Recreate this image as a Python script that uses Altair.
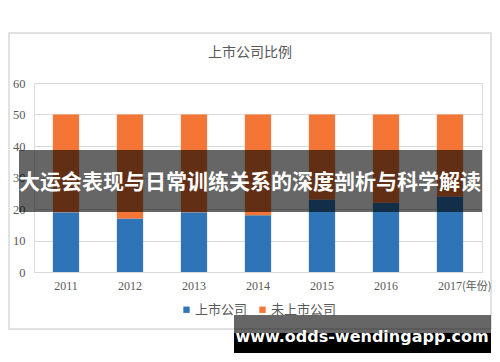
import altair as alt
import pandas as pd

years = ["2011", "2012", "2013", "2014", "2015", "2016", "2017"]
listed = [19, 17, 19, 18, 23, 22, 24]
unlisted = [31, 33, 31, 32, 27, 28, 26]
series = ["上市公司", "未上市公司"]
colors = ["#2E74B7", "#F47536"]
y_ticks = [0, 10, 20, 30, 40, 50, 60]
title_text = "上市公司比例"
x_suffix = "(年份)"
banner_text = "大运会表现与日常训练关系的深度剖析与科学解读"
watermark_text = "www.odds-wendingapp.com"

rows = []
for i, yr in enumerate(years):
    rows.append({"year": yr, "series": series[0], "value": listed[i], "k": 0})
    rows.append({"year": yr, "series": series[1], "value": unlisted[i], "k": 1})
df = pd.DataFrame(rows)

W, H = 448, 189
GRAY = "#595959"
GRID = "#d9d9d9"
CJK = "Noto Sans CJK SC"
SERIF = "Liberation Serif"

x_scale = alt.Scale(domain=years, paddingInner=0.59, paddingOuter=0.295)

bars = alt.Chart(df).mark_bar().encode(
    x=alt.X("year:N", scale=x_scale, sort=years, title=None,
            axis=alt.Axis(labelAngle=0, ticks=False, domain=True, domainColor=GRID,
                          labelFont=SERIF, labelFontSize=12, labelColor=GRAY,
                          labelPadding=8, grid=False)),
    y=alt.Y("value:Q", stack="zero", scale=alt.Scale(domain=[0, 60]), title=None,
            axis=alt.Axis(values=y_ticks, ticks=False, domain=False, gridColor=GRID,
                          labelFont=SERIF, labelFontSize=12.5, labelColor=GRAY,
                          labelPadding=9)),
    color=alt.Color("series:N", scale=alt.Scale(domain=series, range=colors),
                    legend=alt.Legend(title=None, orient="none", legendX=146, legendY=220,
                                      direction="horizontal", symbolType="square",
                                      symbolSize=40, symbolStrokeWidth=0,
                                      labelFont=CJK, labelFontSize=13, labelColor=GRAY,
                                      labelOffset=2, columnPadding=8)),
    order=alt.Order("k:Q", sort="ascending"),
)

suffix = alt.Chart(alt.Data(values=[{"year": years[-1], "t": x_suffix}])).mark_text(
    align="left", baseline="middle", dx=12, font=CJK, fontSize=11, color=GRAY
).encode(
    x=alt.X("year:N", scale=x_scale, sort=years, title=None),
    y=alt.value(H + 15),
    text="t:N",
)

one = alt.Data(values=[{"a": 1}])

border = alt.Chart(one).mark_rect(fillOpacity=0, stroke=GRID, strokeWidth=1.5).encode(
    x=alt.value(-25), x2=alt.value(457), y=alt.value(-50), y2=alt.value(246)
)

title = alt.Chart(one).mark_text(
    text=title_text, font=CJK, fontSize=14, color=GRAY, baseline="middle", align="center"
).encode(x=alt.value(216), y=alt.value(-30))

banner_bg = alt.Chart(one).mark_rect(color="#000000", opacity=0.6).encode(
    x=alt.value(-15), x2=alt.value(448), y=alt.value(67), y2=alt.value(129)
)
banner_tx = alt.Chart(one).mark_text(
    text=banner_text, font=CJK, fontSize=21, fontWeight="bold", color="#ffffff",
    baseline="middle", align="center"
).encode(x=alt.value(216), y=alt.value(100))

wm_top = alt.Chart(one).mark_rect(color="#000000", opacity=0.6).encode(
    x=alt.value(200), x2=alt.value(457), y=alt.value(232), y2=alt.value(250)
)
wm_bot = alt.Chart(one).mark_rect(color="#000000", opacity=1).encode(
    x=alt.value(200), x2=alt.value(457), y=alt.value(250), y2=alt.value(270)
)
wm_tx = alt.Chart(one).mark_text(
    text=watermark_text, font="DejaVu Sans", fontSize=16, fontWeight="bold",
    color="#ffffff", baseline="middle", align="center"
).encode(x=alt.value(328), y=alt.value(254))

chart = alt.layer(
    border, bars, suffix, title, banner_bg, banner_tx, wm_top, wm_bot, wm_tx
).properties(
    width=W, height=H,
    autosize=alt.AutoSizeParams(type="none"),
    padding={"left": 26, "top": 75, "right": 10, "bottom": 82},
).configure_view(stroke=None).configure(background="#ffffff")

chart.save("out.html", embed_options={"renderer": "svg", "actions": False})
